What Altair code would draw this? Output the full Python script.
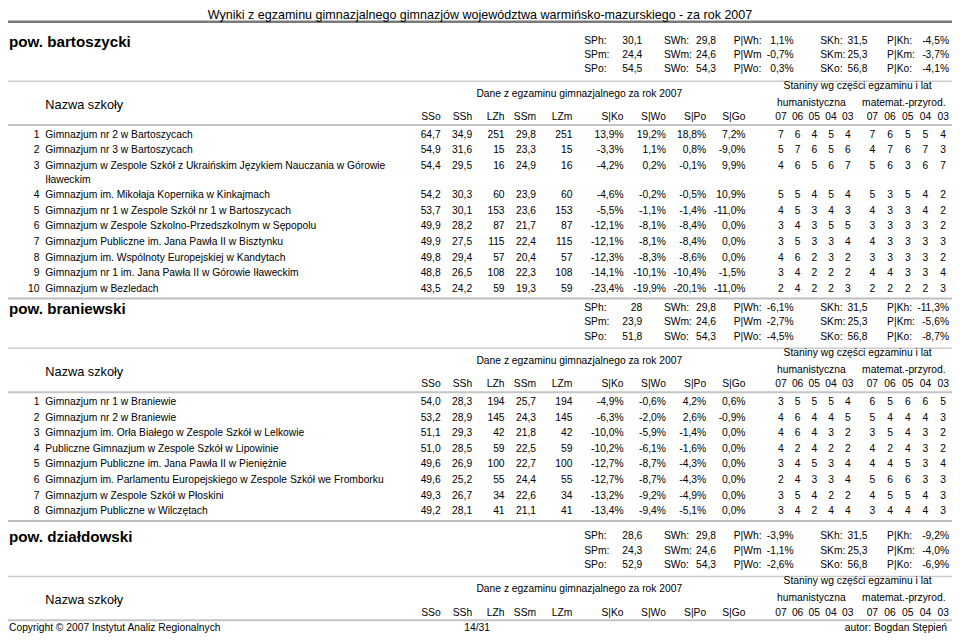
import altair as alt
import pandas as pd

# ---------------- data ----------------
page_title = "Wyniki z egzaminu gimnazjalnego gimnazjów województwa warmińsko-mazurskiego - za rok 2007"
footer_left = "Copyright © 2007 Instytut Analiz Regionalnych"
footer_mid = "14/31"
footer_right = "autor: Bogdan Stępień"

powiaty = ["pow. bartoszycki", "pow. braniewski", "pow. działdowski"]

stat_labels_p = ["SPh:", "SPm:", "SPo:"]
stat_labels_w = ["SWh:", "SWm:", "SWo:"]
stat_labels_pw = ["P|Wh:", "P|Wm", "P|Wo:"]
stat_labels_k = ["SKh:", "SKm:", "SKo:"]
stat_labels_pk = ["P|Kh:", "P|Km:", "P|Ko:"]

stat_sp = [["30,1", "24,4", "54,5"], ["28", "23,9", "51,8"], ["28,6", "24,3", "52,9"]]
stat_sw = [["29,8", "24,6", "54,3"], ["29,8", "24,6", "54,3"], ["29,8", "24,6", "54,3"]]
stat_pw = [["1,1%", "-0,7%", "0,3%"], ["-6,1%", "-2,7%", "-4,5%"], ["-3,9%", "-1,1%", "-2,6%"]]
stat_sk = [["31,5", "25,3", "56,8"], ["31,5", "25,3", "56,8"], ["31,5", "25,3", "56,8"]]
stat_pk = [["-4,5%", "-3,7%", "-4,1%"], ["-11,3%", "-5,6%", "-8,7%"], ["-9,2%", "-4,0%", "-6,9%"]]

col_headers = ["SSo", "SSh", "LZh", "SSm", "LZm", "S|Ko", "S|Wo", "S|Po", "S|Go"]
year_headers = ["07", "06", "05", "04", "03"]

schools_bart = [
    "Gimnazjum nr 2 w Bartoszycach",
    "Gimnazjum nr 3 w Bartoszycach",
    "Gimnazjum w Zespole Szkół z Ukraińskim Językiem Nauczania w Górowie|Iławeckim",
    "Gimnazjum im. Mikołaja Kopernika w Kinkajmach",
    "Gimnazjum nr 1 w Zespole Szkół nr 1 w Bartoszycach",
    "Gimnazjum w Zespole Szkolno-Przedszkolnym w Sępopolu",
    "Gimnazjum Publiczne im. Jana Pawła II w Bisztynku",
    "Gimnazjum im. Wspólnoty Europejskiej w Kandytach",
    "Gimnazjum nr 1 im. Jana Pawła II w Górowie Iławeckim",
    "Gimnazjum w Bezledach",
]
vals_bart = [
    ["64,7", "34,9", "251", "29,8", "251", "13,9%", "19,2%", "18,8%", "7,2%"],
    ["54,9", "31,6", "15", "23,3", "15", "-3,3%", "1,1%", "0,8%", "-9,0%"],
    ["54,4", "29,5", "16", "24,9", "16", "-4,2%", "0,2%", "-0,1%", "9,9%"],
    ["54,2", "30,3", "60", "23,9", "60", "-4,6%", "-0,2%", "-0,5%", "10,9%"],
    ["53,7", "30,1", "153", "23,6", "153", "-5,5%", "-1,1%", "-1,4%", "-11,0%"],
    ["49,9", "28,2", "87", "21,7", "87", "-12,1%", "-8,1%", "-8,4%", "0,0%"],
    ["49,9", "27,5", "115", "22,4", "115", "-12,1%", "-8,1%", "-8,4%", "0,0%"],
    ["49,8", "29,4", "57", "20,4", "57", "-12,3%", "-8,3%", "-8,6%", "0,0%"],
    ["48,8", "26,5", "108", "22,3", "108", "-14,1%", "-10,1%", "-10,4%", "-1,5%"],
    ["43,5", "24,2", "59", "19,3", "59", "-23,4%", "-19,9%", "-20,1%", "-11,0%"],
]
stan_hum_bart = [[7,6,4,5,4],[5,7,6,5,6],[4,6,5,6,7],[5,5,4,5,4],[4,5,3,4,3],
                 [3,4,3,5,5],[3,5,3,3,4],[4,6,2,3,2],[3,4,2,2,2],[2,4,2,2,3]]
stan_mat_bart = [[7,6,5,5,4],[4,7,6,7,3],[5,6,3,6,7],[5,3,5,4,2],[4,3,3,4,2],
                 [3,3,3,3,2],[4,3,3,3,3],[3,3,3,3,2],[4,4,3,3,4],[2,2,2,2,3]]

schools_bran = [
    "Gimnazjum nr 1 w Braniewie",
    "Gimnazjum nr 2 w Braniewie",
    "Gimnazjum im. Orła Białego w Zespole Szkół w Lelkowie",
    "Publiczne Gimnazjum w Zespole Szkół w Lipowinie",
    "Gimnazjum Publiczne im. Jana Pawła II w Pieniężnie",
    "Gimnazjum im. Parlamentu Europejskiego w Zespole Szkół we Fromborku",
    "Gimnazjum w Zespole Szkół w Płoskini",
    "Gimnazjum Publiczne w Wilczętach",
]
vals_bran = [
    ["54,0", "28,3", "194", "25,7", "194", "-4,9%", "-0,6%", "4,2%", "0,6%"],
    ["53,2", "28,9", "145", "24,3", "145", "-6,3%", "-2,0%", "2,6%", "-0,9%"],
    ["51,1", "29,3", "42", "21,8", "42", "-10,0%", "-5,9%", "-1,4%", "0,0%"],
    ["51,0", "28,5", "59", "22,5", "59", "-10,2%", "-6,1%", "-1,6%", "0,0%"],
    ["49,6", "26,9", "100", "22,7", "100", "-12,7%", "-8,7%", "-4,3%", "0,0%"],
    ["49,6", "25,2", "55", "24,4", "55", "-12,7%", "-8,7%", "-4,3%", "0,0%"],
    ["49,3", "26,7", "34", "22,6", "34", "-13,2%", "-9,2%", "-4,9%", "0,0%"],
    ["49,2", "28,1", "41", "21,1", "41", "-13,4%", "-9,4%", "-5,1%", "0,0%"],
]
stan_hum_bran = [[3,5,5,5,4],[4,6,4,4,5],[4,6,4,3,2],[4,2,4,2,2],
                 [3,4,5,3,4],[2,4,3,3,4],[3,5,4,2,2],[3,4,2,4,4]]
stan_mat_bran = [[6,5,6,6,5],[5,4,4,4,3],[3,5,4,3,2],[4,2,4,3,2],
                 [4,4,5,3,4],[5,6,6,3,3],[4,5,5,4,3],[3,4,4,4,3]]

sections = [
    (schools_bart, vals_bart, stan_hum_bart, stan_mat_bart),
    (schools_bran, vals_bran, stan_hum_bran, stan_mat_bran),
    ([], [], [], []),
]

# ---------------- layout (reference pixel space 960 x 642) ----------------
S = 0.98                     # font scale (chart is 944x626 inside the 8px page margin)
BODY = 10.5 * S
section_base = [35, 309, 543]
col_right = [440, 472, 505, 537, 574, 626, 669, 710, 750]
hum_x = [786, 803, 820, 837, 854]
mat_x = [879, 897, 915, 933, 951]
row_pitch = 16
wrap_extra = 14

texts = []
rules = []

def T(x, y, t, align="left", size=BODY, weight="normal"):
    texts.append(dict(x=x, y=y, t=t, align=align, size=size, weight=weight))

def R(x1, x2, y, color, w):
    rules.append(dict(x=x1, x2=x2, y=y, c=color, w=w))

T(480, 7, page_title, "center", 12.8 * S)
R(0, 960, 14, "#7a7a7a", 2.5)

for si, (names, vals, hum, mat) in enumerate(sections):
    b = section_base[si]
    T(1, b, powiaty[si], "left", 15.5 * S, "bold")
    for k in range(3):
        yy = b - 1 + k * 14.5
        T(586, yy, stat_labels_p[k]); T(645, yy, stat_sp[si][k], "right")
        T(667, yy, stat_labels_w[k]); T(720, yy, stat_sw[si][k], "right")
        T(738, yy, stat_labels_pw[k]); T(799, yy, stat_pw[si][k], "right")
        T(826, yy, stat_labels_k[k]); T(874, yy, stat_sk[si][k], "right")
        T(894, yy, stat_labels_pk[k]); T(957, yy, stat_pk[si][k], "right")
    R(0, 960, b + 40, "#cccccc", 1.5)
    T(864, b + 45, "Staniny wg części egzaminu i lat", "center")
    T(581, b + 53, "Dane z egzaminu gimnazjalnego za rok 2007", "center")
    T(817, b + 62, "humanistyczna", "center")
    T(911, b + 62, "matemat.-przyrod.", "center")
    T(38, b + 64, "Nazwa szkoły", "left", 13 * S)
    for ci, h in enumerate(col_headers):
        T(col_right[ci], b + 77, h, "right")
    for yi, h in enumerate(year_headers):
        T(hum_x[yi], b + 77, h, "center")
        T(mat_x[yi], b + 77, h, "center")
    R(0, 960, b + 85, "#c4c4c4", 2)
    y = b + 95
    for ri, name in enumerate(names):
        T(32, y, str(ri + 1), "right")
        parts = name.split("|")
        T(38, y, parts[0])
        for ci, v in enumerate(vals[ri]):
            T(col_right[ci], y, v, "right")
        for yi in range(5):
            T(hum_x[yi], y, str(hum[ri][yi]), "center")
            T(mat_x[yi], y, str(mat[ri][yi]), "center")
        extra = 0
        for p in parts[1:]:
            extra += wrap_extra
            T(38, y + extra, p)
        y += row_pitch + extra
    if names:
        R(0, 960, y - row_pitch + 10, "#bdbdbd", 2)

T(1, 636, footer_left)
T(477, 636, footer_mid, "center")
T(955, 636, footer_right, "right")

tdf = pd.DataFrame(texts)
rdf = pd.DataFrame(rules)

xs = alt.Scale(domain=[0, 960], nice=False, zero=False)
ys = alt.Scale(domain=[0, 642], nice=False, zero=False, reverse=True)

layers = []
rule_layer = alt.Chart(rdf).mark_rule().encode(
    x=alt.X("x:Q", scale=xs, axis=None),
    x2="x2:Q",
    y=alt.Y("y:Q", scale=ys, axis=None),
    color=alt.Color("c:N", scale=None),
    strokeWidth=alt.StrokeWidth("w:Q", scale=None),
)
layers.append(rule_layer)

for (align, size, weight), g in tdf.groupby(["align", "size", "weight"]):
    layers.append(
        alt.Chart(g).mark_text(
            align=align, baseline="middle", fontSize=float(size),
            fontWeight=weight, font="Liberation Sans", color="#000000",
        ).encode(
            x=alt.X("x:Q", scale=xs, axis=None),
            y=alt.Y("y:Q", scale=ys, axis=None),
            text="t:N",
        )
    )

chart = alt.layer(*layers).properties(
    width=944, height=626, padding=0, autosize=alt.AutoSizeParams(type="none"),
    background="white",
).configure_view(stroke=None)

chart.save("out.html", embed_options={"renderer": "svg", "actions": False})
